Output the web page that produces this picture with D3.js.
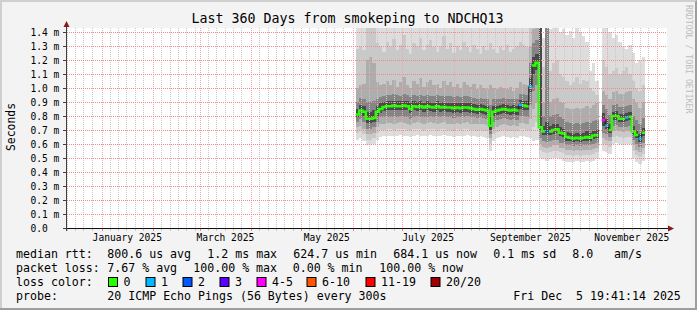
<!DOCTYPE html>
<html>
<head>
<meta charset="utf-8">
<title>Last 360 Days from smokeping to NDCHQ13</title>
<script src="https://cdn.jsdelivr.net/npm/d3@7"></script>
<style>
    html, body { margin: 0; padding: 0; background: #f3f3f3; }
    svg { display: block; }
    text { font-family: "DejaVu Sans Mono", monospace; fill: #000; }
</style>
</head>
<body>
<svg width="697" height="310"></svg>
<script>
// ---- data (times in ms, columns of 2 days starting Jun 3 2025) ----
var rangeStart = new Date(2024, 11, 10, 19, 41, 14);
var rangeEnd = new Date(2025, 11, 5, 19, 41, 14);
var firstColumn = new Date(2025, 5, 3);
var columnDays = 2;

var median = [
    0.81, 0.84, 0.83, 0.78, 0.78, 0.785, 0.83, 0.85, 0.865, 0.87,
    0.87, 0.875, 0.87, 0.87, 0.875, 0.87, 0.85, 0.87, 0.865, 0.87,
    0.86, 0.87, 0.865, 0.86, 0.87, 0.86, 0.865, 0.86, 0.86, 0.855,
    0.86, 0.855, 0.86, 0.86, 0.855, 0.85, 0.845, 0.85, 0.845, 0.84,
    0.73, 0.83, 0.84, 0.845, 0.85, 0.845, 0.84, 0.845, 0.84, 0.88,
    0.875, 0.87, 1.01, 1.16, 1.18, 0.72, 0.69, 0.69, 0.69, 0.70,
    0.705, 0.68, 0.675, 0.65, 0.645, 0.64, 0.645, 0.64, 0.645, 0.65,
    0.645, 0.66, 0.665, null, 0.77, 0.73, 0.70, 0.80, 0.80, 0.78,
    0.78, 0.79, 0.795, 0.69, 0.665, 0.64, 0.68
];
var lost = [
    0, 0, 0, 0, 0, 0, 0, 0, 0, 0,
    0, 0, 0, 0, 0, 0, 0, 0, 0, 0,
    0, 0, 0, 0, 0, 0, 0, 0, 0, 0,
    0, 0, 0, 0, 0, 0, 0, 0, 0, 0,
    0, 0, 0, 0, 0, 0, 0, 0, 0, 1,
    0, 0, 1, 0, 0, 0, 0, 2, 0, 0,
    0, 0, 0, 0, 0, 0, 0, 0, 0, 0,
    0, 0, 0, 20, 5, 1, 0, 0, 0, 0,
    0, 1, 0, 0, 0, 1, 0
];
// sorted pings (1 = fastest ... 20 = slowest)
var ping1 = [
    0.63, 0.64, 0.62, 0.59, 0.59, 0.60, 0.63, 0.65, 0.655, 0.66,
    0.66, 0.655, 0.66, 0.665, 0.66, 0.655, 0.65, 0.66, 0.665, 0.66,
    0.655, 0.66, 0.665, 0.66, 0.655, 0.66, 0.665, 0.66, 0.655, 0.65,
    0.66, 0.655, 0.66, 0.665, 0.66, 0.655, 0.65, 0.655, 0.65, 0.645,
    0.55, 0.62, 0.64, 0.65, 0.655, 0.65, 0.645, 0.65, 0.645, 0.66,
    0.655, 0.65, 0.64, 0.62, 0.63, 0.50, 0.49, 0.48, 0.49, 0.50,
    0.50, 0.49, 0.48, 0.47, 0.475, 0.47, 0.48, 0.47, 0.475, 0.48,
    0.47, 0.48, 0.49, null, 0.55, 0.54, 0.53, 0.60, 0.61, 0.60,
    0.59, 0.60, 0.60, 0.50, 0.47, 0.46, 0.48
];
var ping3 = [
    0.68, 0.69, 0.67, 0.63, 0.63, 0.64, 0.68, 0.70, 0.70, 0.705,
    0.705, 0.70, 0.71, 0.71, 0.705, 0.70, 0.69, 0.705, 0.71, 0.705,
    0.70, 0.705, 0.71, 0.705, 0.70, 0.705, 0.71, 0.70, 0.70, 0.695,
    0.705, 0.70, 0.705, 0.71, 0.70, 0.70, 0.695, 0.70, 0.695, 0.69,
    0.60, 0.67, 0.685, 0.695, 0.70, 0.695, 0.69, 0.695, 0.69, 0.71,
    0.705, 0.70, 0.70, 0.72, 0.76, 0.56, 0.54, 0.535, 0.54, 0.55,
    0.55, 0.54, 0.535, 0.52, 0.52, 0.515, 0.52, 0.515, 0.52, 0.525,
    0.52, 0.53, 0.54, null, 0.60, 0.59, 0.58, 0.65, 0.66, 0.65,
    0.645, 0.65, 0.65, 0.55, 0.52, 0.51, 0.53
];
var ping5 = [
    0.72, 0.73, 0.71, 0.67, 0.67, 0.68, 0.72, 0.74, 0.745, 0.75,
    0.75, 0.745, 0.75, 0.755, 0.75, 0.745, 0.735, 0.75, 0.755, 0.75,
    0.745, 0.75, 0.755, 0.75, 0.745, 0.75, 0.755, 0.745, 0.745, 0.74,
    0.75, 0.745, 0.75, 0.755, 0.745, 0.745, 0.74, 0.745, 0.74, 0.735,
    0.64, 0.71, 0.725, 0.735, 0.74, 0.735, 0.73, 0.735, 0.73, 0.75,
    0.75, 0.745, 0.78, 0.85, 0.89, 0.60, 0.58, 0.575, 0.58, 0.59,
    0.59, 0.575, 0.57, 0.555, 0.555, 0.55, 0.555, 0.55, 0.555, 0.56,
    0.555, 0.565, 0.575, null, 0.64, 0.63, 0.62, 0.69, 0.70, 0.69,
    0.685, 0.69, 0.69, 0.59, 0.56, 0.545, 0.57
];
var ping7 = [
    0.76, 0.78, 0.76, 0.71, 0.71, 0.72, 0.76, 0.79, 0.79, 0.795,
    0.795, 0.79, 0.795, 0.80, 0.795, 0.79, 0.78, 0.795, 0.80, 0.795,
    0.79, 0.795, 0.80, 0.795, 0.79, 0.795, 0.80, 0.79, 0.79, 0.785,
    0.795, 0.79, 0.795, 0.80, 0.79, 0.79, 0.785, 0.79, 0.785, 0.78,
    0.67, 0.76, 0.77, 0.78, 0.785, 0.78, 0.775, 0.78, 0.775, 0.80,
    0.80, 0.795, 0.88, 0.98, 1.02, 0.64, 0.62, 0.615, 0.62, 0.63,
    0.63, 0.61, 0.605, 0.59, 0.59, 0.585, 0.59, 0.585, 0.59, 0.595,
    0.59, 0.60, 0.61, null, 0.68, 0.67, 0.65, 0.73, 0.735, 0.72,
    0.72, 0.725, 0.73, 0.63, 0.60, 0.58, 0.61
];
var ping9 = [
    0.79, 0.82, 0.80, 0.75, 0.75, 0.76, 0.80, 0.825, 0.835, 0.84,
    0.84, 0.845, 0.84, 0.84, 0.845, 0.84, 0.82, 0.84, 0.835, 0.84,
    0.83, 0.84, 0.835, 0.83, 0.84, 0.83, 0.835, 0.83, 0.83, 0.825,
    0.83, 0.825, 0.83, 0.83, 0.825, 0.82, 0.815, 0.82, 0.815, 0.81,
    0.70, 0.80, 0.81, 0.815, 0.82, 0.815, 0.81, 0.815, 0.81, 0.85,
    0.845, 0.84, 0.97, 1.10, 1.13, 0.70, 0.665, 0.665, 0.665, 0.675,
    0.68, 0.655, 0.65, 0.625, 0.62, 0.615, 0.62, 0.615, 0.62, 0.625,
    0.62, 0.635, 0.64, null, 0.73, 0.71, 0.68, 0.77, 0.775, 0.755,
    0.755, 0.765, 0.77, 0.665, 0.64, 0.615, 0.655
];
var ping12 = [
    0.85, 0.88, 0.87, 0.83, 0.83, 0.84, 0.87, 0.89, 0.90, 0.905,
    0.905, 0.91, 0.905, 0.905, 0.91, 0.905, 0.89, 0.905, 0.90, 0.905,
    0.895, 0.905, 0.90, 0.895, 0.905, 0.895, 0.90, 0.895, 0.895, 0.89,
    0.895, 0.89, 0.895, 0.895, 0.89, 0.885, 0.88, 0.885, 0.88, 0.875,
    0.79, 0.87, 0.875, 0.88, 0.885, 0.88, 0.875, 0.88, 0.875, 0.915,
    0.91, 0.905, 1.07, 1.22, 1.24, 1.50, 0.73, 0.76, 0.73, 0.74,
    0.745, 0.72, 0.71, 0.685, 0.68, 0.675, 0.68, 0.675, 0.68, 0.69,
    0.68, 0.695, 0.70, null, 0.82, 0.78, 0.74, 0.83, 0.835, 0.815,
    0.815, 0.825, 0.83, 0.73, 0.70, 0.675, 0.715
];
var ping14 = [
    0.90, 0.93, 0.92, 0.90, 0.90, 0.91, 0.92, 0.935, 0.945, 0.95,
    0.95, 0.955, 0.95, 0.945, 0.955, 0.95, 0.935, 0.95, 0.945, 0.95,
    0.94, 0.95, 0.945, 0.94, 0.95, 0.94, 0.945, 0.94, 0.94, 0.935,
    0.94, 0.935, 0.94, 0.94, 0.935, 0.93, 0.925, 0.93, 0.925, 0.92,
    0.88, 0.92, 0.92, 0.925, 0.93, 0.925, 0.92, 0.925, 0.92, 0.96,
    0.955, 0.95, 1.18, 1.32, 1.34, 1.50, 0.80, 1.50, 0.80, 0.81,
    0.815, 0.79, 0.78, 0.755, 0.75, 0.745, 0.75, 0.745, 0.75, 0.76,
    0.75, 0.765, 0.77, null, 0.88, 0.85, 0.81, 0.88, 0.885, 0.865,
    0.865, 0.875, 0.88, 0.80, 0.77, 0.745, 0.785
];
var ping16 = [
    1.00, 1.02, 1.03, 1.20, 1.22, 1.18, 1.04, 1.02, 1.03, 1.05,
    1.02, 1.06, 1.01, 1.04, 1.08, 1.02, 1.00, 1.05, 1.03, 1.07,
    1.01, 1.04, 1.06, 1.02, 1.03, 1.00, 1.05, 1.02, 1.04, 1.01,
    1.03, 1.00, 1.04, 1.02, 1.01, 1.03, 0.99, 1.02, 1.00, 0.99,
    1.02, 1.00, 0.99, 1.01, 1.00, 0.99, 1.01, 0.98, 1.00, 1.04,
    1.03, 1.02, 1.30, 1.42, 1.45, 1.50, 0.90, 1.50, 0.90, 0.92,
    0.93, 0.90, 0.89, 0.86, 0.85, 0.85, 0.86, 0.85, 0.86, 0.87,
    0.86, 0.88, 0.89, null, 0.98, 0.95, 0.92, 0.97, 0.98, 0.96,
    0.96, 0.97, 0.98, 0.92, 0.89, 0.86, 0.90
];
var ping18 = [
    1.28, 1.30, 1.27, 1.50, 1.50, 1.50, 1.32, 1.30, 1.26, 1.33,
    1.29, 1.35, 1.27, 1.31, 1.38, 1.28, 1.24, 1.32, 1.30, 1.36,
    1.27, 1.31, 1.34, 1.29, 1.26, 1.30, 1.37, 1.28, 1.32, 1.25,
    1.30, 1.27, 1.33, 1.29, 1.26, 1.31, 1.28, 1.24, 1.30, 1.27,
    1.32, 1.28, 1.25, 1.29, 1.27, 1.31, 1.26, 1.28, 1.30, 1.33,
    1.31, 1.29, 1.45, 1.50, 1.50, 1.50, 1.15, 1.50, 1.12, 1.18,
    1.20, 1.10, 1.08, 1.05, 1.02, 1.04, 1.08, 1.03, 1.06, 1.05,
    1.00, 0.98, 0.95, null, 1.20, 1.15, 1.10, 1.12, 1.14, 1.10,
    1.12, 1.15, 1.10, 1.05, 1.00, 0.98, 1.02
];
var ping20 = [
    1.50, 1.50, 1.50, 1.50, 1.50, 1.50, 1.50, 1.50, 1.50, 1.50,
    1.50, 1.50, 1.50, 1.50, 1.50, 1.50, 1.50, 1.50, 1.50, 1.50,
    1.50, 1.50, 1.50, 1.50, 1.50, 1.50, 1.50, 1.50, 1.50, 1.50,
    1.50, 1.50, 1.50, 1.50, 1.50, 1.50, 1.50, 1.50, 1.50, 1.50,
    1.50, 1.50, 1.50, 1.50, 1.50, 1.50, 1.50, 1.50, 1.50, 1.50,
    1.50, 1.50, 1.50, 1.50, 1.50, 1.50, 1.36, 1.50, 1.42, 1.45,
    1.50, 1.40, 1.42, 1.38, 1.41, 1.36, 1.43, 1.39, 1.37, 1.33,
    1.12, 1.18, 1.05, null, 1.50, 1.45, 1.40, 1.36, 1.38, 1.33,
    1.30, 1.28, 1.31, 1.25, 1.18, 1.20, 1.22
];

var yTicks = [0, 0.1, 0.2, 0.3, 0.4, 0.5, 0.6, 0.7, 0.8, 0.9, 1.0, 1.1, 1.2, 1.3, 1.4];
var yTickLabels = ["0.0", "0.1 m", "0.2 m", "0.3 m", "0.4 m", "0.5 m", "0.6 m", "0.7 m",
    "0.8 m", "0.9 m", "1.0 m", "1.1 m", "1.2 m", "1.3 m", "1.4 m"];
var minorDays = [6, 11, 16, 21, 26];
var labelMonths = [0, 2, 4, 6, 8, 10];

var lossClasses = [
    {label: "0", max: 0, color: "#26ff00", x: 108},
    {label: "1", max: 1, color: "#00b8ff", x: 145.5},
    {label: "2", max: 2, color: "#0059ff", x: 182.5},
    {label: "3", max: 3, color: "#5e00ff", x: 219.5},
    {label: "4-5", max: 5, color: "#ff00ff", x: 256.5},
    {label: "6-10", max: 10, color: "#ff5500", x: 306.5},
    {label: "11-19", max: 19, color: "#ff0000", x: 365.5},
    {label: "20/20", max: 20, color: "#a10000", x: 430.5}
];

var smokeLayers = [
    {lo: ping1, hi: ping20, color: "#dddddd"},
    {lo: ping3, hi: ping18, color: "#c9c9c9"},
    {lo: ping5, hi: ping16, color: "#adadad"},
    {lo: ping7, hi: ping14, color: "#858585"},
    {lo: ping9, hi: ping12, color: "#4a4a4a"}
];

var legendRows = [
    {y: 257.5, items: [[16, "median rtt:"], [107.3, "800.6 us avg"], [207.3, "1.2 ms max"],
        [293.3, "624.7 us min"], [393.3, "684.1 us now"], [493.3, "0.1 ms sd"], [572.3, "8.0"], [614, "am/s"]]},
    {y: 271.5, items: [[16, "packet loss:"], [107.3, "7.67 % avg"], [193.3, "100.00 % max"],
        [292.7, "0.00 % min"], [379.3, "100.00 % now"]]},
    {y: 285.5, items: [[16, "loss color:"]]},
    {y: 299.5, items: [[16, "probe:"], [107.3, "20 ICMP Echo Pings (56 Bytes) every 300s"],
        [513.3, "Fri Dec  5 19:41:14 2025"]]}
];

// ---- layout ----
var W = 697, H = 310;
var cx0 = 67, cx1 = 667, cy0 = 28, cy1 = 228;

var svg = d3.select("svg");

var x = d3.scaleTime().domain([rangeStart, rangeEnd]).range([66.3, 664.7]);
var y = d3.scaleLinear().domain([0, 1.4286]).range([cy1, cy0]);

// frame
svg.append("rect").attr("width", W).attr("height", H).attr("fill", "#f3f3f3");
svg.append("path").attr("d", "M0,0H697V2H2V310H0Z").attr("fill", "#cfcfcf");
svg.append("path").attr("d", "M697,0V310H0V308H695V2Z").attr("fill", "#9e9e9e");

svg.append("text")
    .attr("x", 347.5).attr("y", 23.3)
    .attr("text-anchor", "middle")
    .style("font-size", "13.3px")
    .text("Last 360 Days from smokeping to NDCHQ13");

svg.append("text")
    .attr("transform", "translate(15,127) rotate(-90)")
    .attr("text-anchor", "middle")
    .style("font-size", "11.4px")
    .text("Seconds");

svg.append("text")
    .attr("transform", "translate(685.5,5) rotate(90)")
    .style("font-size", "8.2px")
    .style("fill", "#bdbdbd")
    .text("RRDTOOL / TOBI OETIKER");

svg.append("defs").append("clipPath").attr("id", "canvas")
    .append("rect").attr("x", cx0).attr("y", cy0).attr("width", cx1 - cx0).attr("height", cy1 - cy0);

svg.append("rect")
    .attr("x", cx0).attr("y", cy0).attr("width", cx1 - cx0).attr("height", cy1 - cy0)
    .attr("fill", "#ffffff");

// ---- smoke ----
var columns = median.map(function (m, i) {
    return {
        t0: d3.timeDay.offset(firstColumn, i * columnDays),
        t1: d3.timeDay.offset(firstColumn, (i + 1) * columnDays),
        i: i, med: m, lost: lost[i]
    };
});

var plot = svg.append("g").attr("clip-path", "url(#canvas)");

smokeLayers.forEach(function (layer) {
    plot.append("g")
        .attr("shape-rendering", "crispEdges")
        .selectAll("rect")
        .data(columns.filter(function (c) { return layer.lo[c.i] != null; }))
        .join("rect")
        .attr("x", function (c) { return x(c.t0); })
        .attr("width", function (c) { return x(c.t1) - x(c.t0); })
        .attr("y", function (c) { return y(layer.hi[c.i]); })
        .attr("height", function (c) { return y(layer.lo[c.i]) - y(layer.hi[c.i]); })
        .attr("fill", layer.color);
});

// ---- grid ----
var months = d3.timeMonth.range(rangeStart, rangeEnd);
var minorTimes = [];
d3.timeMonth.range(d3.timeMonth.floor(rangeStart), rangeEnd).forEach(function (m) {
    minorDays.forEach(function (d) {
        var t = new Date(m.getFullYear(), m.getMonth(), d);
        if (t > rangeStart && t < rangeEnd) minorTimes.push(t);
    });
});

var grid = svg.append("g").attr("shape-rendering", "crispEdges");
var px = function (d) { return Math.round(x(d)) + 0.5; };
var py = function (d) { return Math.round(y(d)) + 0.5; };

grid.selectAll("line.minor").data(minorTimes).join("line").attr("class", "minor")
    .attr("x1", px).attr("x2", px)
    .attr("y1", cy0).attr("y2", cy1)
    .attr("stroke", "#c8c8c8").attr("stroke-dasharray", "1,1");

grid.selectAll("line.minortick").data(minorTimes).join("line").attr("class", "minortick")
    .attr("x1", px).attr("x2", px)
    .attr("y1", cy1).attr("y2", cy1 + 3)
    .attr("stroke", "#c8c8c8");

grid.selectAll("line.major").data(months).join("line").attr("class", "major")
    .attr("x1", px).attr("x2", px)
    .attr("y1", cy0).attr("y2", cy1)
    .attr("stroke", "#f4a6a6").attr("stroke-dasharray", "1,1");

grid.selectAll("line.majortick").data(months).join("line").attr("class", "majortick")
    .attr("x1", px).attr("x2", px)
    .attr("y1", cy1).attr("y2", cy1 + 3)
    .attr("stroke", "#f08a8a");

grid.selectAll("line.hgrid").data(yTicks.slice(1)).join("line").attr("class", "hgrid")
    .attr("x1", cx0).attr("x2", cx1)
    .attr("y1", py).attr("y2", py)
    .attr("stroke", "#f08a8a").attr("stroke-dasharray", "1,1");

// ---- median ----
var stepPoints = [];
columns.forEach(function (c) {
    stepPoints.push({t: c.t0, c: c});
    stepPoints.push({t: c.t1, c: c});
});

function lossClass(n) {
    for (var k = 0; k < lossClasses.length; k++) if (n <= lossClasses[k].max) return k;
    return lossClasses.length - 1;
}

plot.append("path")
    .datum(stepPoints)
    .attr("d", d3.line()
        .defined(function (d) { return d.c.med != null; })
        .x(function (d) { return x(d.t); })
        .y(function (d) { return y(d.c.med); }))
    .attr("fill", "none").attr("stroke", "#202020").attr("stroke-width", 1);

lossClasses.forEach(function (lc, k) {
    var line = d3.line()
        .defined(function (d) { return d.c.med != null && lossClass(d.c.lost) === k; })
        .x(function (d) { return x(d.t); })
        .y(function (d) { return y(d.c.med); });
    plot.append("path")
        .datum(stepPoints)
        .attr("d", line)
        .attr("fill", "none").attr("stroke", lc.color).attr("stroke-width", 2.5);
});

// ---- axes ----
var axes = svg.append("g").attr("shape-rendering", "crispEdges");
axes.append("line").attr("x1", 63).attr("x2", 669).attr("y1", cy1 + 0.5).attr("y2", cy1 + 0.5)
    .attr("stroke", "#101010");
axes.append("line").attr("x1", cx0 - 0.5).attr("x2", cx0 - 0.5).attr("y1", cy1 + 3).attr("y2", 25)
    .attr("stroke", "#404040");
axes.selectAll("line.ytick").data(yTicks).join("line").attr("class", "ytick")
    .attr("x1", 63).attr("x2", cx0)
    .attr("y1", py).attr("y2", py)
    .attr("stroke", "#404040");
svg.append("path").attr("d", "M66.5,21L63.5,27L69.5,27Z").attr("fill", "#8b1a1a");
svg.append("path").attr("d", "M674,228.5L668,225.5L668,231.5Z").attr("fill", "#8b1a1a");

svg.selectAll("text.ylabel").data(yTicks).join("text").attr("class", "ylabel")
    .attr("x", 30.5)
    .attr("y", function (d) { return y(d) + 3.7; })
    .style("font-size", "9.6px")
    .text(function (d, i) { return yTickLabels[i]; });

svg.selectAll("text.xlabel")
    .data(months.filter(function (m) { return labelMonths.indexOf(m.getMonth()) >= 0; }))
    .join("text").attr("class", "xlabel")
    .attr("x", function (m) { return (x(m) + x(d3.timeMonth.offset(m, 1))) / 2; })
    .attr("y", 240.5)
    .attr("text-anchor", "middle")
    .style("font-size", "9.6px")
    .text(d3.timeFormat("%B %Y"));

// ---- legend ----
legendRows.forEach(function (row) {
    row.items.forEach(function (it) {
        svg.append("text")
            .attr("x", it[0]).attr("y", row.y)
            .style("font-size", "11.6px")
            .style("white-space", "pre")
            .text(it[1]);
    });
});

var swatch = svg.append("g").selectAll("g").data(lossClasses).join("g");
swatch.append("rect")
    .attr("x", function (d) { return d.x + 0.5; }).attr("y", 277.5)
    .attr("width", 9).attr("height", 9)
    .attr("fill", function (d) { return d.color; })
    .attr("stroke", "#000");
swatch.append("text")
    .attr("x", function (d) { return d.x + 15.5; }).attr("y", 285.5)
    .style("font-size", "11.6px")
    .text(function (d) { return d.label; });
</script>
</body>
</html>
